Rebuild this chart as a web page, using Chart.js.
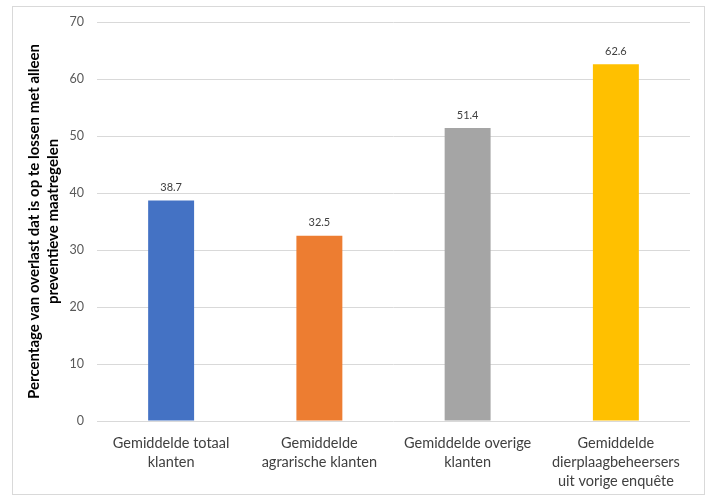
<!DOCTYPE html>
<html>
<head>
<meta charset="utf-8">
<script src="https://cdn.jsdelivr.net/npm/chart.js@4/dist/chart.umd.min.js"></script>
<style>
  html, body { margin: 0; padding: 0; background: #fff; }
  #wrap { position: relative; width: 709px; height: 499px; }
  #frame { position: absolute; left: 12px; top: 6px; width: 691px; height: 487px; border: 1px solid #d9d9d9; pointer-events: none; }
</style>
</head>
<body>
<div id="wrap">
  <canvas id="chart" width="709" height="499"></canvas>
  <div id="frame"></div>
</div>
<script>
// Categories (multi-line labels) and values
const categories = [
  ['Gemiddelde totaal', 'klanten'],
  ['Gemiddelde', 'agrarische klanten'],
  ['Gemiddelde overige', 'klanten'],
  ['Gemiddelde', 'dierplaagbeheersers', 'uit vorige enquête']
];
const values = [38.7, 32.5, 51.4, 62.6];
const barColors = ['#4472C4', '#ED7D31', '#A5A5A5', '#FFC000'];
const yTitle = ['Percentage van overlast dat is op te lossen met alleen', 'preventieve maatregelen'];

const FONT = 'Lato, "Open Sans", sans-serif';

// Writes each bar's value just above it
const valueLabels = {
  id: 'valueLabels',
  afterDatasetsDraw(chart) {
    const ctx = chart.ctx;
    const meta = chart.getDatasetMeta(0);
    ctx.save();
    ctx.font = '11px ' + FONT;
    ctx.fillStyle = '#404040';
    ctx.textAlign = 'center';
    ctx.textBaseline = 'middle';
    meta.data.forEach((bar, i) => {
      ctx.fillText(values[i].toFixed(1), bar.x, bar.y - 13);
    });
    ctx.restore();
  }
};

new Chart(document.getElementById('chart'), {
  type: 'bar',
  data: {
    labels: categories,
    datasets: [{
      data: values,
      backgroundColor: barColors,
      borderWidth: 0,
      categoryPercentage: 1.0,
      barPercentage: 0.31
    }]
  },
  options: {
    responsive: false,
    animation: false,
    events: [],
    layout: { padding: { left: 12, right: 19, top: 22, bottom: 0 } },
    plugins: { legend: { display: false }, tooltip: { enabled: false } },
    scales: {
      x: {
        grid: { display: false },
        border: { display: false },
        ticks: {
          color: '#404040',
          font: { family: FONT, size: 14.5, lineHeight: 1.3 },
          padding: 5,
          maxRotation: 0,
          autoSkip: false
        },
        afterFit(scale) { scale.height = 78; }
      },
      y: {
        min: 0,
        max: 70,
        ticks: {
          stepSize: 10,
          color: '#595959',
          font: { family: FONT, size: 12.5 },
          padding: 13
        },
        grid: { color: '#d9d9d9', drawTicks: false },
        border: { display: false },
        title: {
          display: true,
          text: yTitle,
          color: '#000000',
          font: { family: FONT, size: 15, weight: 'bold', lineHeight: 1.27 },
          padding: { top: 13, bottom: 0 }
        },
        afterFit(scale) { scale.width = 85; }
      }
    }
  },
  plugins: [valueLabels]
});
</script>
</body>
</html>
